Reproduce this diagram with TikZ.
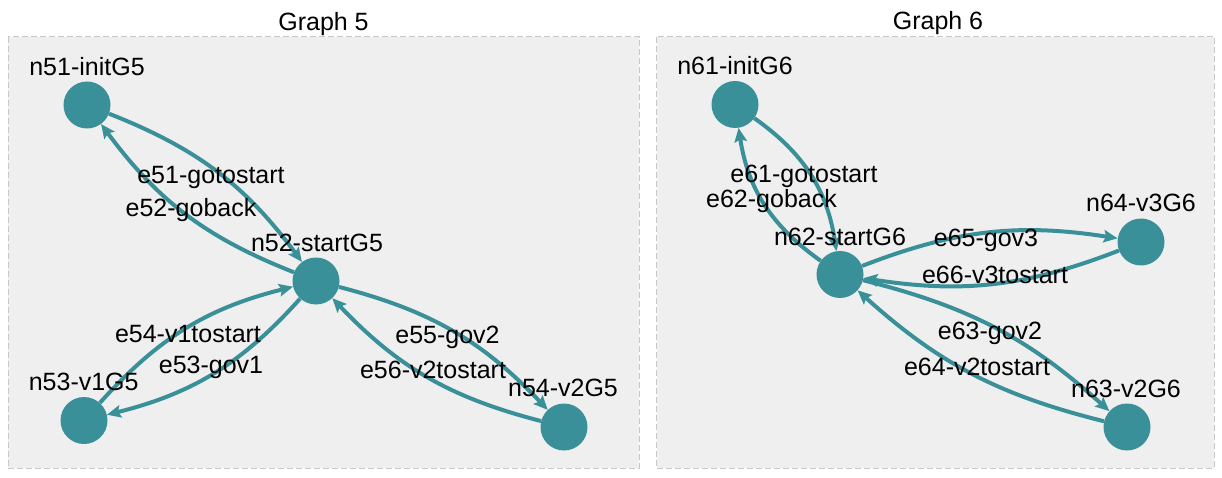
\documentclass[tikz,border=0pt]{standalone}
\usepackage{fontspec}
\setmainfont{Liberation Sans}
\usetikzlibrary{arrows.meta}
\definecolor{teal1}{RGB}{58,144,153}
\definecolor{panelfill}{RGB}{239,239,239}
\definecolor{paneldraw}{RGB}{200,200,200}
\tikzset{
  vtx/.style={circle, fill=teal1, draw=none, minimum size=47pt, inner sep=0pt},
  txt/.style={anchor=base, inner sep=0pt, font=\fontsize{25}{30}\selectfont, text=black},
  edge/.style={draw=teal1, line width=4pt, -{Stealth[length=14pt,width=12.5pt,inset=2.5pt]}},
  panel/.style={fill=panelfill, draw=paneldraw, line width=1pt, dash pattern=on 6pt off 3pt},
}
\begin{document}
\begin{tikzpicture}[x=1pt,y=1pt]
\useasboundingbox (0,0) rectangle (1222,-478);
% panels
\path[panel] (8,-36.7) rectangle (639.3,-468.3);
\path[panel] (656.7,-36.7) rectangle (1214,-468.3);
\node[txt] (t5) at (323.5,-30.7) {Graph 5};
\node[txt] (t6) at (938,-30) {Graph 6};
% Graph 5 nodes
\node[vtx] (n51) at (87,-105) {};
\node[vtx] (n52) at (316,-281) {};
\node[vtx] (n53) at (84,-420.5) {};
\node[vtx] (n54) at (564,-427) {};
% Graph 6 nodes
\node[vtx] (n61) at (735,-104.5) {};
\node[vtx] (n62) at (840,-274.5) {};
\node[vtx] (n63) at (1127,-427) {};
\node[vtx] (n64) at (1141,-242) {};
% Graph 5 edges
\draw[edge] (n51) to[bend left=16] (n52);
\draw[edge] (n52) to[bend left=16] (n51);
\draw[edge] (n52) to[bend left=17] (n53);
\draw[edge] (n53) to[bend left=17] (n52);
\draw[edge] (n52) to[bend left=16] (n54);
\draw[edge] (n54) to[bend left=16] (n52);
% Graph 6 edges
\draw[edge] (n61) to[bend left=23] (n62);
\draw[edge] (n62) to[bend left=23] (n61);
\draw[edge] (n62) to[bend left=15] (n64);
\draw[edge] (n64) to[bend left=15] (n62);
\draw[edge] (n62) to[bend left=14] (n63);
\draw[edge] (n63) to[bend left=14] (n62);
% node labels
\node[txt] (l51) at (87,-76) {n51-initG5};
\node[txt] (l52) at (317,-251.7) {n52-startG5};
\node[txt] (l53) at (83.7,-390.7) {n53-v1G5};
\node[txt] (l54) at (563,-396.7) {n54-v2G5};
\node[txt] (l61) at (735,-75) {n61-initG6};
\node[txt] (l62) at (840,-245) {n62-startG6};
\node[txt] (l63) at (1126,-397) {n63-v2G6};
\node[txt] (l64) at (1141,-211.7) {n64-v3G6};
% edge labels
\node[txt] (le51) at (211,-184) {e51-gotostart};
\node[txt] (le52) at (191,-216.7) {e52-goback};
\node[txt] (le54) at (188,-342.7) {e54-v1tostart};
\node[txt] (le53) at (211,-373) {e53-gov1};
\node[txt] (le55) at (447.5,-343) {e55-gov2};
\node[txt] (le56) at (433,-378) {e56-v2tostart};
\node[txt] (le61) at (804,-182.7) {e61-gotostart};
\node[txt] (le62) at (771.5,-208) {e62-goback};
\node[txt] (le65) at (986,-246.7) {e65-gov3};
\node[txt] (le66) at (995,-283) {e66-v3tostart};
\node[txt] (le63) at (990,-339) {e63-gov2};
\node[txt] (le64) at (977,-375) {e64-v2tostart};
\end{tikzpicture}
\end{document}
